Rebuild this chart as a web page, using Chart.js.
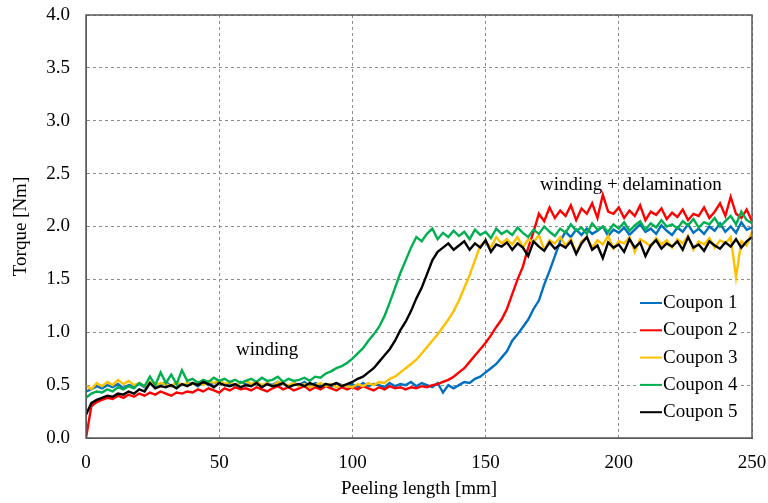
<!DOCTYPE html>
<html lang="en">
<head>
  <meta charset="UTF-8" />
  <title>Torque vs peeling length</title>
  <script src="https://cdn.jsdelivr.net/npm/chart.js"></script>
  <style>
    html, body { margin: 0; padding: 0; background: #fff; }
    #wrap { width: 768px; height: 503px; }
  </style>
</head>
<body>
  <div id="wrap"><canvas id="torqueChart" width="768" height="503"></canvas></div>

  <script>
    // peeling length [mm], sampled every 2 mm
    const peelLength = [
      0, 2, 4, 6, 8, 10, 12, 14, 16, 18,
      20, 22, 24, 26, 28, 30, 32, 34, 36, 38,
      40, 42, 44, 46, 48, 50, 52, 54, 56, 58,
      60, 62, 64, 66, 68, 70, 72, 74, 76, 78,
      80, 82, 84, 86, 88, 90, 92, 94, 96, 98,
      100, 102, 104, 106, 108, 110, 112, 114, 116, 118,
      120, 122, 124, 126, 128, 130, 132, 134, 136, 138,
      140, 142, 144, 146, 148, 150, 152, 154, 156, 158,
      160, 162, 164, 166, 168, 170, 172, 174, 176, 178,
      180, 182, 184, 186, 188, 190, 192, 194, 196, 198,
      200, 202, 204, 206, 208, 210, 212, 214, 216, 218,
      220, 222, 224, 226, 228, 230, 232, 234, 236, 238,
      240, 242, 244, 246, 248, 250
    ];

    // torque [Nm]
    const coupon1 = [
      0.44, 0.46, 0.49, 0.47, 0.50, 0.48, 0.51, 0.47, 0.50, 0.49,
      0.51, 0.48, 0.52, 0.49, 0.50, 0.53, 0.49, 0.52, 0.50, 0.51,
      0.52, 0.49, 0.53, 0.50, 0.52, 0.54, 0.50, 0.52, 0.49, 0.53,
      0.51, 0.50, 0.53, 0.49, 0.52, 0.50, 0.53, 0.51, 0.49, 0.52,
      0.50, 0.53, 0.49, 0.52, 0.50, 0.51, 0.48, 0.52, 0.50, 0.49,
      0.51, 0.48, 0.52, 0.49, 0.51, 0.50, 0.48, 0.52, 0.49, 0.51,
      0.50, 0.53, 0.49, 0.52, 0.50, 0.48, 0.52, 0.43, 0.50, 0.47,
      0.50, 0.53, 0.52, 0.56, 0.58, 0.62, 0.66, 0.70, 0.76, 0.82,
      0.92, 0.98, 1.05, 1.12, 1.22, 1.30, 1.45, 1.58, 1.72, 1.86,
      1.95, 1.90, 1.97, 1.92, 1.98, 1.93, 1.96, 2.00, 1.91, 1.97,
      1.94, 1.99, 1.92, 1.97, 2.02, 1.95, 1.98, 1.93, 2.01, 1.96,
      1.92, 1.99, 1.95, 2.02, 1.94, 1.98, 1.93, 2.00, 1.96, 2.03,
      1.95, 2.00, 1.94, 2.04, 1.97, 1.99
    ];
    const coupon2 = [
      0.00, 0.30, 0.34, 0.36, 0.38, 0.37, 0.40, 0.38, 0.41, 0.39,
      0.42, 0.40, 0.43, 0.41, 0.44, 0.42, 0.40, 0.43, 0.42, 0.44,
      0.43, 0.46, 0.44, 0.47, 0.45, 0.43, 0.47, 0.45, 0.48, 0.46,
      0.47, 0.45, 0.48, 0.46, 0.44, 0.47, 0.49, 0.46, 0.48, 0.45,
      0.47, 0.49, 0.45, 0.48, 0.46, 0.49, 0.47, 0.45, 0.48, 0.46,
      0.48, 0.46, 0.49, 0.47, 0.45, 0.48, 0.46, 0.49, 0.47, 0.48,
      0.46, 0.48, 0.47, 0.49, 0.48, 0.50, 0.51, 0.53, 0.55, 0.58,
      0.62, 0.66, 0.72, 0.78, 0.84, 0.90, 0.97, 1.05, 1.12, 1.22,
      1.36, 1.50, 1.62, 1.80, 1.95, 2.12, 2.05, 2.18, 2.08, 2.15,
      2.10, 2.20, 2.06, 2.17, 2.12, 2.22, 2.08, 2.30, 2.14, 2.12,
      2.18, 2.08, 2.15, 2.10, 2.20, 2.06, 2.14, 2.11, 2.17, 2.07,
      2.13, 2.09, 2.16, 2.06, 2.12, 2.10, 2.18, 2.08, 2.14, 2.22,
      2.10, 2.28, 2.12, 2.08, 2.16, 2.05
    ];
    const coupon3 = [
      0.50, 0.46, 0.52, 0.49, 0.53, 0.50, 0.55, 0.51, 0.54, 0.50,
      0.52, 0.49, 0.53, 0.50, 0.52, 0.51, 0.49, 0.53, 0.50, 0.52,
      0.51, 0.53, 0.50, 0.54, 0.52, 0.55, 0.51, 0.53, 0.50, 0.52,
      0.54, 0.51, 0.53, 0.50, 0.52, 0.49, 0.53, 0.51, 0.50, 0.52,
      0.49, 0.51, 0.48, 0.50, 0.52, 0.49, 0.51, 0.48, 0.50, 0.49,
      0.48, 0.51, 0.49, 0.52, 0.50, 0.53, 0.52, 0.56, 0.58, 0.62,
      0.66, 0.70, 0.74, 0.80, 0.86, 0.92, 0.98, 1.05, 1.12, 1.20,
      1.30, 1.42, 1.54, 1.68, 1.82, 1.86, 1.80, 1.90, 1.84, 1.88,
      1.83, 1.90, 1.80, 1.88, 1.85, 1.92, 1.78, 1.87, 1.84, 1.90,
      1.82, 1.88, 1.75, 1.86, 1.90, 1.80, 1.87, 1.83, 1.91, 1.79,
      1.86, 1.84, 1.90, 1.76, 1.88, 1.85, 1.81, 1.89, 1.83, 1.87,
      1.80, 1.88, 1.84, 1.91, 1.78, 1.86, 1.83, 1.89, 1.80, 1.87,
      1.84, 1.90, 1.52, 1.86, 1.82, 1.95
    ];
    const coupon4 = [
      0.38, 0.42, 0.44, 0.43, 0.46, 0.44, 0.48, 0.46, 0.49, 0.47,
      0.52, 0.49, 0.58, 0.50, 0.62, 0.52, 0.60, 0.51, 0.64, 0.54,
      0.56, 0.52, 0.55, 0.53, 0.57, 0.54, 0.56, 0.53, 0.55, 0.52,
      0.54, 0.56, 0.53, 0.57, 0.54, 0.55, 0.58, 0.53, 0.56, 0.54,
      0.55, 0.57, 0.54, 0.58, 0.57, 0.61, 0.63, 0.66, 0.68, 0.71,
      0.75, 0.80, 0.85, 0.92, 0.98, 1.05, 1.15, 1.28, 1.42, 1.56,
      1.68, 1.80, 1.90, 1.86, 1.93, 1.98, 1.88, 1.94, 1.90, 1.96,
      1.91, 1.95, 1.88, 1.97, 1.92, 1.95, 1.89, 1.98, 1.93, 1.96,
      1.92, 1.99, 1.94, 1.90, 1.97, 1.93, 2.00, 1.95, 1.91, 1.98,
      1.94, 2.02, 1.96, 1.99, 1.93, 2.03, 1.97, 2.00, 1.95, 2.02,
      1.98, 2.04, 1.96, 2.01, 2.05, 1.97, 2.03, 1.99, 2.06, 2.00,
      2.02, 1.98, 2.05, 2.01, 2.07, 1.99, 2.04, 2.02, 2.08, 2.00,
      2.05, 2.10, 2.02, 2.14, 2.06, 2.03
    ];
    const coupon5 = [
      0.22, 0.33, 0.36, 0.38, 0.40, 0.39, 0.42, 0.41, 0.44, 0.42,
      0.46, 0.44, 0.52, 0.47, 0.49, 0.48, 0.50, 0.47, 0.51, 0.49,
      0.52, 0.50, 0.53, 0.51, 0.48, 0.52, 0.50, 0.49, 0.51, 0.48,
      0.50, 0.49, 0.52, 0.48, 0.51, 0.49, 0.50, 0.52, 0.48, 0.50,
      0.51, 0.49, 0.52, 0.50, 0.48, 0.51, 0.50, 0.52, 0.49, 0.51,
      0.53, 0.56, 0.58, 0.62, 0.66, 0.72, 0.78, 0.84, 0.92, 1.02,
      1.10, 1.20, 1.32, 1.42, 1.55, 1.68, 1.76, 1.80, 1.84, 1.78,
      1.82, 1.86, 1.78, 1.84, 1.80, 1.87, 1.76, 1.83, 1.81, 1.85,
      1.78, 1.84, 1.80, 1.72, 1.86, 1.81, 1.77, 1.85, 1.79, 1.83,
      1.80, 1.86, 1.74, 1.84, 1.90, 1.78, 1.82, 1.70, 1.85, 1.80,
      1.83, 1.76, 1.88, 1.80, 1.85, 1.72, 1.82, 1.87, 1.79, 1.84,
      1.81, 1.86, 1.78, 1.90, 1.80, 1.83, 1.77, 1.86, 1.82, 1.79,
      1.85, 1.81, 1.88, 1.80, 1.86, 1.90
    ];

    const seriesNames = ['Coupon 1', 'Coupon 2', 'Coupon 3', 'Coupon 4', 'Coupon 5'];
    const seriesColors = ['#0070C0', '#FF0000', '#FFC000', '#00B050', '#000000'];
    const seriesValues = [coupon1, coupon2, coupon3, coupon4, coupon5];

    const notes = [
      { text: 'winding', x: 68, y: 0.83 },
      { text: 'winding + delamination', x: 204.5, y: 2.39 }
    ];

    const serif = "'Liberation Serif', 'Times New Roman', serif";
    const fontSize = 19;

    // frame, text labels and the in-plot legend
    const overlay = {
      id: 'overlay',
      afterDatasetsDraw(chart) {
        const { ctx, chartArea: a, scales } = chart;
        ctx.save();
        ctx.strokeStyle = '#595959';
        ctx.lineWidth = 1.5;
        ctx.strokeRect(a.left, a.top, a.right - a.left, a.bottom - a.top);

        ctx.fillStyle = '#000';
        ctx.font = fontSize + 'px ' + serif;
        ctx.textAlign = 'center';
        ctx.textBaseline = 'middle';
        notes.forEach(n => {
          ctx.fillText(n.text, scales.x.getPixelForValue(n.x), scales.y.getPixelForValue(n.y));
        });

        // legend box
        ctx.fillStyle = '#fff';
        ctx.fillRect(638, 290, 103, 136);
        ctx.textAlign = 'left';
        seriesNames.forEach((name, i) => {
          const y = 303 + i * 27.3;
          ctx.strokeStyle = seriesColors[i];
          ctx.lineWidth = 2;
          ctx.beginPath();
          ctx.moveTo(640, y);
          ctx.lineTo(662, y);
          ctx.stroke();
          ctx.fillStyle = '#000';
          ctx.fillText(name, 663, y);
        });
        ctx.restore();
      }
    };

    new Chart(document.getElementById('torqueChart'), {
      type: 'line',
      data: {
        labels: peelLength,
        datasets: seriesValues.map((vals, i) => ({
          label: seriesNames[i],
          data: vals.map((v, j) => ({ x: peelLength[j], y: v })),
          borderColor: seriesColors[i],
          backgroundColor: seriesColors[i],
          borderWidth: 2.4,
          pointRadius: 0,
          tension: 0,
          order: 5 - i
        }))
      },
      options: {
        responsive: false,
        animation: false,
        layout: { padding: { top: 15, right: 16, left: 0, bottom: 0 } },
        plugins: {
          legend: { display: false },
          tooltip: { enabled: false }
        },
        scales: {
          x: {
            type: 'linear',
            min: 0,
            max: 250,
            ticks: { stepSize: 50, color: '#000', padding: 14, font: { family: serif, size: fontSize } },
            grid: { color: '#8c8c8c', drawTicks: false, tickLength: 0 },
            border: { display: true, color: '#595959', dash: [3, 3] },
            title: { display: true, text: 'Peeling length [mm]', color: '#000', padding: { top: 0, bottom: 3 }, font: { family: serif, size: fontSize } },
            afterFit: s => { s.height = 65; s.paddingLeft = 0; s.paddingRight = 0; }
          },
          y: {
            min: 0,
            max: 4,
            ticks: {
              stepSize: 0.5, color: '#000', padding: 16,
              font: { family: serif, size: fontSize },
              callback: v => v.toFixed(1)
            },
            grid: { color: '#8c8c8c', drawTicks: false, tickLength: 0 },
            border: { display: true, color: '#595959', dash: [3, 3] },
            title: { display: true, text: 'Torque [Nm]', color: '#000', padding: { top: 10, bottom: 0 }, font: { family: serif, size: fontSize } },
            afterFit: s => { s.width = 86; s.paddingTop = 0; s.paddingBottom = 0; }
          }
        }
      },
      plugins: [overlay]
    });
  </script>
</body>
</html>
